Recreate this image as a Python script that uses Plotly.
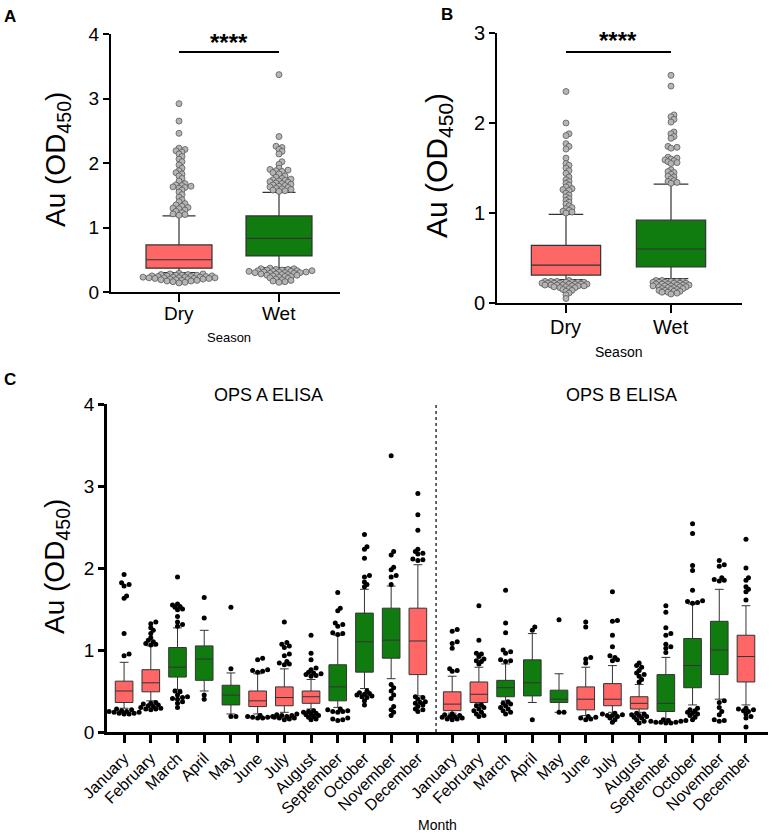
import plotly.graph_objects as go

# ---------------- DATA ----------------
seasons = ["Dry", "Wet"]

# Panel A (OPS A ELISA, by season): box statistics
a_q1 = [0.37, 0.56]
a_med = [0.50, 0.83]
a_q3 = [0.73, 1.18]
a_lo = [0.30, 0.38]
a_hi = [1.18, 1.545]
a_out_dry = [2.92, 2.65, 2.46, 2.23, 2.21, 2.19, 2.17, 2.14, 2.10, 2.06, 2.02, 1.97, 1.92, 1.88,
             1.85, 1.83, 1.80, 1.76, 1.72, 1.68, 1.66, 1.65, 1.64, 1.63, 1.62, 1.61, 1.58, 1.55,
             1.51, 1.47, 1.43, 1.40, 1.37, 1.35, 1.33, 1.31, 1.30, 1.29, 1.27, 1.25, 1.23, 1.21,
             1.20, 1.19,
             0.29, 0.28, 0.28, 0.27, 0.27, 0.26, 0.26, 0.26, 0.25, 0.25, 0.25, 0.24, 0.24, 0.24,
             0.23, 0.23, 0.23, 0.23, 0.22, 0.22, 0.22, 0.22, 0.21, 0.21, 0.21, 0.20, 0.20, 0.20,
             0.19, 0.19, 0.18, 0.18, 0.17, 0.17, 0.16, 0.15, 0.14]
a_out_wet = [3.37, 2.41, 2.26, 2.24, 2.21, 2.18, 2.14, 2.02, 1.98, 1.92, 1.90, 1.89, 1.88, 1.87,
             1.85, 1.83, 1.80, 1.78, 1.76, 1.75, 1.74, 1.73, 1.72, 1.71, 1.70, 1.69, 1.68, 1.67,
             1.66, 1.65, 1.64, 1.63, 1.62, 1.61, 1.60, 1.59, 1.58, 1.57, 1.56,
             0.37, 0.36, 0.36, 0.35, 0.35, 0.34, 0.34, 0.33, 0.33, 0.33, 0.32, 0.32, 0.32, 0.31,
             0.31, 0.31, 0.30, 0.30, 0.30, 0.29, 0.29, 0.28, 0.28, 0.27, 0.27, 0.26, 0.26, 0.25,
             0.24, 0.24, 0.23, 0.22, 0.21, 0.20, 0.19, 0.18, 0.17, 0.16, 0.15]

# Panel B (OPS B ELISA, by season)
b_q1 = [0.31, 0.40]
b_med = [0.42, 0.60]
b_q3 = [0.64, 0.92]
b_lo = [0.26, 0.27]
b_hi = [0.985, 1.32]
b_out_dry = [2.35, 2.00, 1.88, 1.86, 1.77, 1.74, 1.71, 1.61, 1.55, 1.53, 1.50, 1.47, 1.44, 1.40,
             1.37, 1.35, 1.33, 1.31, 1.29, 1.27, 1.26, 1.25, 1.22, 1.20, 1.18, 1.16, 1.14, 1.12,
             1.10, 1.08, 1.06, 1.05, 1.03, 1.02, 1.01, 1.00,
             0.25, 0.24, 0.24, 0.24, 0.23, 0.23, 0.23, 0.23, 0.22, 0.22, 0.22, 0.22, 0.21, 0.21,
             0.21, 0.21, 0.20, 0.20, 0.20, 0.20, 0.19, 0.19, 0.19, 0.18, 0.18, 0.17, 0.17, 0.16,
             0.15, 0.14, 0.13, 0.11, 0.09, 0.05]
b_out_wet = [2.53, 2.41, 2.09, 2.07, 2.04, 2.01, 1.90, 1.88, 1.85, 1.83, 1.74, 1.73, 1.72, 1.62,
             1.61, 1.60, 1.59, 1.58, 1.57, 1.56, 1.55, 1.48, 1.46, 1.45, 1.43, 1.41, 1.40, 1.38,
             1.36, 1.35, 1.34, 1.33,
             0.25, 0.25, 0.24, 0.24, 0.24, 0.23, 0.23, 0.23, 0.22, 0.22, 0.22, 0.21, 0.21, 0.21,
             0.20, 0.20, 0.20, 0.19, 0.19, 0.19, 0.18, 0.18, 0.18, 0.17, 0.17, 0.16, 0.16, 0.15,
             0.15, 0.14, 0.14, 0.13, 0.13, 0.12, 0.12, 0.11, 0.10]

# Panel C (by month)
months = ["January", "February", "March", "April", "May", "June", "July", "August",
          "September", "October", "November", "December"]
month_season = ["Dry", "Dry", "Wet", "Wet", "Wet", "Dry", "Dry", "Dry", "Wet", "Wet", "Wet", "Dry"]

opsA_q1 = [0.36, 0.49, 0.67, 0.63, 0.33, 0.31, 0.32, 0.35, 0.38, 0.73, 0.90, 0.70]
opsA_med = [0.50, 0.60, 0.79, 0.89, 0.45, 0.38, 0.42, 0.43, 0.55, 1.10, 1.12, 1.11]
opsA_q3 = [0.62, 0.76, 1.03, 1.05, 0.57, 0.50, 0.55, 0.50, 0.82, 1.45, 1.51, 1.51]
opsA_lo = [0.29, 0.38, 0.52, 0.50, 0.22, 0.22, 0.24, 0.28, 0.30, 0.53, 0.65, 0.44]
opsA_hi = [0.85, 1.05, 1.27, 1.24, 0.72, 0.71, 0.77, 0.64, 1.18, 1.74, 1.78, 2.04]
opsA_out = [
    [1.92, 1.82, 1.80, 1.78, 1.66, 1.63, 1.20, 0.95, 0.93, 0.28, 0.27, 0.26, 0.25, 0.25, 0.24,
     0.24, 0.23, 0.23, 0.22, 0.22],
    [1.34, 1.32, 1.27, 1.24, 1.20, 1.15, 1.12, 1.10, 1.08, 1.07, 1.06, 0.36, 0.35, 0.34, 0.33,
     0.32, 0.31, 0.30, 0.29, 0.28, 0.28, 0.27],
    [1.89, 1.56, 1.55, 1.53, 1.52, 1.50, 1.49, 1.41, 1.34, 1.31, 1.29, 0.50, 0.49, 0.45, 0.43,
     0.42, 0.41, 0.40, 0.37, 0.35, 0.30],
    [1.64, 1.39, 0.45, 0.40],
    [1.52, 0.77, 0.19, 0.19],
    [0.90, 0.88, 0.76, 0.75, 0.74, 0.73, 0.20, 0.19, 0.19, 0.18, 0.18, 0.17, 0.17],
    [1.34, 1.09, 1.07, 1.05, 1.03, 0.95, 0.93, 0.86, 0.84, 0.83, 0.82, 0.22, 0.21, 0.20, 0.20,
     0.19, 0.18, 0.17, 0.17, 0.16, 0.15],
    [1.18, 0.96, 0.88, 0.78, 0.76, 0.73, 0.72, 0.71, 0.70, 0.69, 0.68, 0.26, 0.25, 0.24, 0.23,
     0.22, 0.21, 0.20, 0.19, 0.18, 0.16, 0.15],
    [1.70, 1.51, 1.48, 1.33, 1.31, 1.29, 1.21, 1.20, 1.19, 0.28, 0.27, 0.26, 0.25, 0.25, 0.24,
     0.17, 0.16, 0.15, 0.14],
    [2.41, 2.26, 2.23, 2.12, 1.91, 1.89, 1.83, 1.80, 1.77, 0.50, 0.48, 0.47, 0.46, 0.45, 0.44,
     0.43, 0.42, 0.38, 0.33],
    [3.37, 2.20, 2.16, 2.01, 1.98, 1.91, 1.89, 1.80, 0.58, 0.54, 0.50, 0.45, 0.41, 0.31, 0.27,
     0.24, 0.20],
    [2.91, 2.65, 2.46, 2.23, 2.20, 2.18, 2.17, 2.11, 2.10, 2.09, 0.43, 0.42, 0.40, 0.37, 0.36,
     0.35, 0.33, 0.31, 0.28, 0.27, 0.25],
]

opsB_q1 = [0.26, 0.36, 0.43, 0.44, 0.36, 0.27, 0.32, 0.28, 0.25, 0.54, 0.70, 0.61]
opsB_med = [0.34, 0.46, 0.54, 0.60, 0.40, 0.40, 0.40, 0.35, 0.35, 0.81, 1.00, 0.92]
opsB_q3 = [0.49, 0.61, 0.63, 0.88, 0.51, 0.55, 0.59, 0.43, 0.70, 1.14, 1.35, 1.18]
opsB_lo = [0.23, 0.34, 0.38, 0.36, 0.24, 0.20, 0.24, 0.24, 0.16, 0.33, 0.40, 0.33]
opsB_hi = [0.68, 0.79, 0.83, 1.20, 0.71, 0.79, 0.81, 0.58, 0.91, 1.56, 1.74, 1.54]
opsB_out = [
    [1.25, 1.23, 1.10, 1.08, 1.02, 0.77, 0.75, 0.74, 0.22, 0.21, 0.20, 0.19, 0.19, 0.18, 0.17,
     0.16, 0.16, 0.15],
    [1.54, 1.12, 0.96, 0.95, 0.92, 0.89, 0.87, 0.86, 0.83, 0.33, 0.32, 0.30, 0.28, 0.26, 0.24,
     0.22, 0.20, 0.19],
    [1.73, 1.33, 1.21, 1.00, 0.98, 0.96, 0.88, 0.87, 0.86, 0.37, 0.35, 0.34, 0.32, 0.30, 0.28,
     0.26, 0.24, 0.22],
    [1.28, 1.24, 0.15],
    [1.37, 0.24, 0.24],
    [1.34, 1.28, 0.91, 0.89, 0.84, 0.19, 0.18, 0.17, 0.16, 0.15],
    [1.71, 1.36, 1.35, 1.18, 1.04, 0.93, 0.91, 0.88, 0.87, 0.23, 0.22, 0.21, 0.20, 0.20, 0.19,
     0.17, 0.15, 0.12],
    [0.84, 0.81, 0.79, 0.75, 0.72, 0.70, 0.68, 0.64, 0.61, 0.23, 0.22, 0.21, 0.20, 0.19, 0.18,
     0.17, 0.15, 0.13, 0.11],
    [1.54, 1.46, 1.27, 1.20, 1.18, 1.07, 1.04, 1.02, 0.97, 0.15, 0.14, 0.14, 0.13, 0.13, 0.12,
     0.12, 0.12, 0.11, 0.11],
    [2.54, 2.42, 2.03, 1.97, 1.73, 1.60, 1.59, 1.58, 1.57, 0.29, 0.27, 0.26, 0.24, 0.23, 0.22,
     0.20, 0.18, 0.15],
    [2.09, 2.04, 2.02, 1.88, 1.86, 1.85, 1.84, 0.38, 0.36, 0.30, 0.25, 0.21, 0.15, 0.14, 0.13],
    [2.35, 2.00, 1.88, 1.85, 1.77, 1.74, 1.71, 1.61, 0.29, 0.28, 0.27, 0.26, 0.25, 0.22, 0.19,
     0.17, 0.06],
]

# ---------------- STYLE / LAYOUT HELPERS ----------------
W, H = 773, 835
FONT = "Liberation Sans, Arial, Helvetica, sans-serif"
COL = {"Dry": "#FF6666", "Wet": "#107C10"}
BOXLINE = "#333333"


def fx(p):
    return p / W


def fy(p):
    return 1 - p / H


def swarm(vals, center, ppx, ppy, d, thr):
    """Deterministic beeswarm: offsets computed from value positions (pixels)."""
    order = sorted(range(len(vals)), key=lambda i: vals[i])
    placed = []
    xs = [center] * len(vals)
    step = d * 0.5
    lim = (d * thr) ** 2
    for i in order:
        y = vals[i] * ppy
        off = 0.0
        for k in range(400):
            off = ((k + 1) // 2) * step * (1 if k % 2 else -1)
            if all((off - px) ** 2 + (y - py) ** 2 >= lim for px, py in placed):
                break
        placed.append((off, y))
        xs[i] = center + off / ppx
    return xs


fig = go.Figure()


def add_box(xs, q1, med, q3, lo, hi, color, xa, ya, width, lw=1.2):
    fig.add_trace(go.Box(
        x=xs, q1=q1, median=med, q3=q3, lowerfence=lo, upperfence=hi,
        fillcolor=color, line=dict(color=BOXLINE, width=lw), width=width,
        whiskerwidth=0.5, boxpoints=False, xaxis=xa, yaxis=ya,
        showlegend=False, hoverinfo="skip"))


def add_dots(xs, ys, xa, ya, size, color, lcolor, lw):
    fig.add_trace(go.Scatter(
        x=xs, y=ys, mode="markers", xaxis=xa, yaxis=ya, cliponaxis=False,
        marker=dict(size=size, color=color, line=dict(color=lcolor, width=lw)),
        showlegend=False, hoverinfo="skip"))


# ---- Panel A ----
for i, s in enumerate(seasons):
    add_box([i], [a_q1[i]], [a_med[i]], [a_q3[i]], [a_lo[i]], [a_hi[i]], COL[s], "x", "y", 0.66)
for i, outs in enumerate([a_out_dry, a_out_wet]):
    add_dots(swarm(outs, i, 100, 64.5, 6, 0.55), outs, "x", "y", 6, "#B5B5B5", "#5A5A5A", 0.8)

# ---- Panel B ----
for i, s in enumerate(seasons):
    add_box([i], [b_q1[i]], [b_med[i]], [b_q3[i]], [b_lo[i]], [b_hi[i]], COL[s], "x2", "y2", 0.66)
for i, outs in enumerate([b_out_dry, b_out_wet]):
    add_dots(swarm(outs, i, 105, 90, 6, 0.55), outs, "x2", "y2", 6, "#B5B5B5", "#5A5A5A", 0.8)

# ---- Panel C ----
GAP = 1.285
posA = list(range(12))
posB = [11 + GAP + i for i in range(12)]
divider = 11 + 0.53 * GAP

for pos, q1, med, q3, lo, hi in [(posA, opsA_q1, opsA_med, opsA_q3, opsA_lo, opsA_hi),
                                  (posB, opsB_q1, opsB_med, opsB_q3, opsB_lo, opsB_hi)]:
    for s in seasons:
        idx = [i for i, m in enumerate(month_season) if m == s]
        add_box([pos[i] for i in idx], [q1[i] for i in idx], [med[i] for i in idx],
                [q3[i] for i in idx], [lo[i] for i in idx], [hi[i] for i in idx],
                COL[s], "x3", "y3", 0.66, 1.0)

cx, cy = [], []
for pos, outs in [(posA, opsA_out), (posB, opsB_out)]:
    for i, o in enumerate(outs):
        cx += swarm(o, pos[i], 26.7, 82, 5, 0.7)
        cy += o
add_dots(cx, cy, "x3", "y3", 5, "black", "black", 0)

# ---------------- AXES ----------------
def xax(domain, rng, anchor, tv, tt, size, lw=2, angle=0):
    return dict(domain=domain, range=rng, anchor=anchor, tickvals=tv, ticktext=tt,
                showline=True, linecolor="black", linewidth=lw, ticks="outside", ticklen=8,
                tickwidth=lw, tickcolor="black", showgrid=False, zeroline=False,
                tickangle=angle, fixedrange=True, showticklabels=tt is not None,
                automargin=False,
                tickfont=dict(family=FONT, size=size, color="black"))


def yax(domain, rng, anchor, tv, size, lw=2):
    return dict(domain=domain, range=rng, anchor=anchor, tickvals=tv,
                showline=True, linecolor="black", linewidth=lw, ticks="outside", ticklen=6,
                tickwidth=lw, tickcolor="black", showgrid=False, zeroline=False,
                fixedrange=True, automargin=False,
                tickfont=dict(family=FONT, size=size, color="black"))


fig.update_layout(
    width=W, height=H, margin=dict(l=0, r=0, t=0, b=0, autoexpand=False),
    paper_bgcolor="white", plot_bgcolor="white", boxmode="overlay",
    font=dict(family=FONT, color="black"),
    xaxis=xax([fx(111), fx(340)], [-0.68, 1.61], "y", [0, 1], None, 18),
    yaxis=yax([fy(292), fy(34)], [0, 4], "x", [0, 1, 2, 3, 4], 19),
    xaxis2=xax([fx(497), fx(742)], [-0.657, 1.676], "y2", [0, 1], None, 19),
    yaxis2=yax([fy(303), fy(33)], [0, 3], "x2", [0, 1, 2, 3], 20),
    xaxis3=xax([fx(107), fx(768)], [-0.64, 24.11], "y3", posA + posB, months + months, 16,
               lw=2.5, angle=-45),
    yaxis3=yax([fy(732), fy(404)], [0, 4], "x3", [0, 1, 2, 3, 4], 19, lw=2.5),
)

# significance bars and divider
fig.add_shape(type="line", xref="x", yref="y", x0=0, x1=1, y0=3.72, y1=3.72,
              line=dict(color="black", width=2))
fig.add_shape(type="line", xref="x2", yref="y2", x0=0, x1=1, y0=2.79, y1=2.79,
              line=dict(color="black", width=2))
fig.add_shape(type="line", xref="x3", yref="y3", x0=divider, x1=divider, y0=0, y1=4,
              line=dict(color="black", width=1.2, dash="dot"))


def ann(text, x, y, size, bold=False, angle=0, xref="paper"):
    fig.add_annotation(text=f"<b>{text}</b>" if bold else text, xref=xref, yref="paper",
                       x=fx(x) if xref == "paper" else x, y=fy(y), xanchor="center",
                       yanchor="middle", showarrow=False, textangle=angle,
                       font=dict(family=FONT, size=size, color="black"))


# season tick labels (placed as text under the ticks)
for i, s in enumerate(seasons):
    ann(s, i, 313, 19, xref="x")
    ann(s, i, 327, 20, xref="x2")

ann("****", 229, 42, 24, bold=True)
ann("****", 618, 40, 24, bold=True)
ann("A", 10, 17, 17, bold=True)
ann("B", 447, 14, 17, bold=True)
ann("C", 10, 379, 17, bold=True)
ann("Au (OD<sub>450</sub>)", 58, 160, 28, angle=-90)
ann("Au (OD<sub>450</sub>)", 438, 166, 30, angle=-90)
ann("Au (OD<sub>450</sub>)", 56, 566, 28, angle=-90)
ann("Season", 229, 337, 13)
ann("Season", 618, 352, 14)
ann("OPS A ELISA", 268, 395, 18)
ann("OPS B ELISA", 621, 395, 18)
ann("Month", 437, 825, 14)

fig.write_html("out.html", config={"displayModeBar": False},
               post_script="document.body.style.margin='0';")
